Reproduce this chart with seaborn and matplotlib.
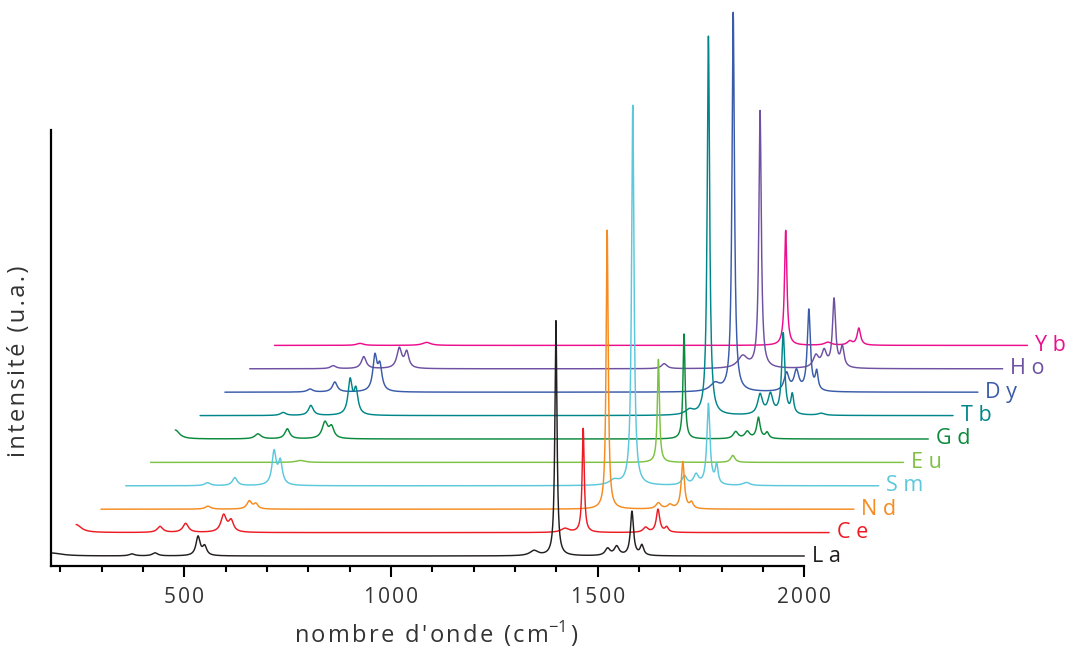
import numpy as np
import matplotlib
matplotlib.use("Agg")
import matplotlib.pyplot as plt
import seaborn as sns

# Lanthanide series, front (La) to back (Yb)
elements = ["La", "Ce", "Nd", "Sm", "Eu", "Gd", "Tb", "Dy", "Ho", "Yb"]
colors = ["#231f20", "#ed1c24", "#f68b1f", "#5bc8dc", "#7dc242",
          "#0a8a3c", "#00868a", "#3a5ba9", "#6e51a2", "#ec0e8c"]

# Band tables: (centre / cm-1, height / a.u., half width / cm-1)
la_bands = [(178, 3, 30), (373, 2, 8), (429, 3, 8), (533, 19, 6), (549, 9, 6),
            (1346, 5, 12), (1399, 235, 3), (1524, 7, 7), (1546, 9, 7),
            (1583, 44, 4.5), (1607, 10, 5)]
ce_bands = [(178, 8, 15), (381, 6, 8), (443, 9, 8), (535, 17, 8), (553, 11, 7),
            (1361, 4, 12), (1405, 104, 3), (1556, 5, 7), (1586, 23, 5),
            (1607, 5, 5)]
nd_bands = [(437, 3, 8), (537, 8, 7), (553, 5, 6), (1403, 279, 3),
            (1527, 6, 7), (1555, 4, 7), (1586, 47, 4.5), (1607, 6, 5)]
sm_bands = [(376, 3, 8), (442, 8, 7), (537, 33, 6), (552, 23, 6), (1360, 5, 14),
            (1405, 380, 3.5), (1530, 9, 7), (1558, 10, 7), (1588, 81, 4.5),
            (1608, 19, 4), (1680, 3, 10)]
eu_bands = [(540, 2, 12), (1407, 103, 3), (1587, 7, 6)]
gd_bands = [(178, 9, 12), (378, 5, 9), (449, 10, 7), (540, 16, 8), (556, 11, 7),
            (1409, 105, 3), (1534, 7, 7), (1562, 7, 7), (1589, 21, 5),
            (1610, 6, 5)]
tb_bands = [(379, 3, 8), (446, 10, 7), (541, 34, 6), (555, 24, 6), (1362, 5, 12),
            (1408, 379, 3.5), (1533, 20, 7), (1558, 20, 7), (1589, 81, 4.5),
            (1611, 19, 4), (1681, 2, 10)]
dy_bands = [(384, 3, 8), (444, 10, 7), (541, 34, 6), (553, 24, 6), (1364, 8, 14),
            (1408, 379, 3.5), (1537, 18, 7), (1561, 20, 7), (1591, 81, 4.5),
            (1610, 18, 4)]
ho_bands = [(380, 3, 8), (454, 12, 7), (540, 20, 7), (558, 16, 6), (1181, 5, 8),
            (1371, 12, 14), (1413, 257, 3.5), (1548, 12, 8), (1568, 16, 7),
            (1592, 68, 4.5), (1612, 20, 5)]
yb_bands = [(385, 2, 10), (546, 3, 12), (1415, 115, 3.5), (1517, 3, 10),
            (1570, 4, 7), (1592, 17, 5)]
band_tables = [la_bands, ce_bands, nd_bands, sm_bands, eu_bands,
               gd_bands, tb_bands, dy_bands, ho_bands, yb_bands]

# Waterfall offsets between successive spectra
x_step = 60.0    # cm-1
y_step = 23.4    # a.u.

wavenumber = np.arange(178.0, 2000.01, 0.5)

x_ticks = [500, 1000, 1500, 2000]
x_tick_labels = ["500", "1000", "1500", "2000"]


def spectrum(bands, x):
    y = np.zeros_like(x)
    for centre, height, hw in bands:
        y += height * hw ** 2 / ((x - centre) ** 2 + hw ** 2)
    return y


def spaced(text, sep="\u200a"):
    return sep.join(text)


sns.set_theme(style="ticks")
plt.rcParams["font.family"] = ["Open Sans", "DejaVu Sans"]
plt.rcParams["mathtext.fontset"] = "custom"
plt.rcParams["mathtext.rm"] = "Open Sans"

fig = plt.figure(figsize=(10.67, 6.5), dpi=100)
ax = fig.add_axes([51 / 1067, 84 / 650, 753.3 / 1067, 436 / 650])

for i in reversed(range(len(elements))):
    xs = wavenumber + i * x_step
    ys = spectrum(band_tables[i], wavenumber) + i * y_step
    sns.lineplot(x=xs, y=ys, ax=ax, color=colors[i], lw=1.05,
                 estimator=None, sort=False, clip_on=False, legend=False)
    ax.text(2000 + i * x_step + 18, i * y_step, " ".join(elements[i]),
            color=colors[i], fontsize=15.5, ha="left", va="center",
            clip_on=False)

ax.set_xlim(177.2, 2000)
ax.set_ylim(-10, 426)
ax.set_xticks(x_ticks)
ax.set_xticklabels([spaced(t) for t in x_tick_labels])
ax.set_xticks(np.arange(200, 2001, 100), minor=True)
ax.set_yticks([])
sns.despine(ax=ax)
for side in ("left", "bottom"):
    ax.spines[side].set_linewidth(1.6)
    ax.spines[side].set_color("black")
ax.tick_params(axis="x", which="major", length=8, width=1.5, direction="out",
               labelsize=15, pad=7, colors="black", labelcolor="#333333")
ax.tick_params(axis="x", which="minor", length=4.3, width=1.5, direction="out",
               colors="black")

xlabel = spaced("nombre d'onde (cm") + r"$^{\mathregular{-1}}$" + "\u200a)"
ylabel = spaced("intensité (u.a.)")
ax.set_xlabel(xlabel, fontsize=17, color="#333333")
ax.set_ylabel(ylabel, fontsize=17, color="#333333")
ax.xaxis.set_label_coords(0.512, -0.121)
ax.yaxis.set_label_coords(-0.026, 0.47)

fig.savefig("out.png", dpi=100, facecolor="white")
